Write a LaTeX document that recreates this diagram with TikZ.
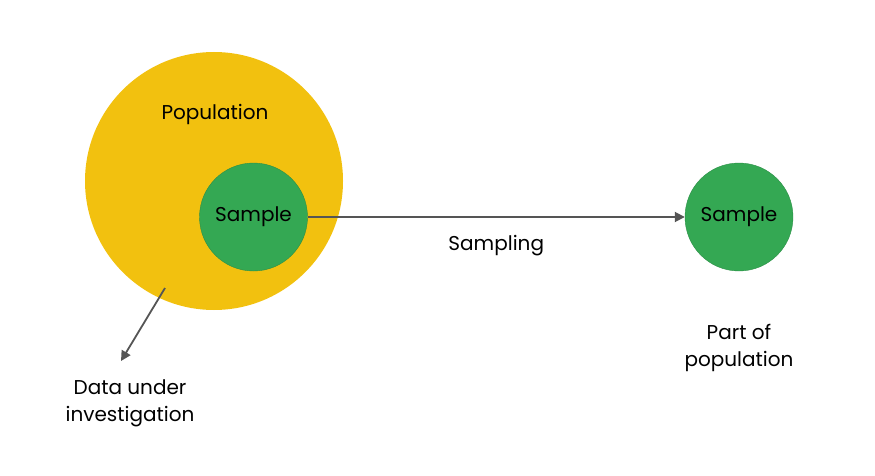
\documentclass[tikz,border=0pt]{standalone}
\usepackage{fontspec}
\setmainfont{Poppins}
\usepackage{xcolor}
\usetikzlibrary{positioning, arrows.meta}
\definecolor{popyellow}{HTML}{F2C10F}
\definecolor{smpgreen}{HTML}{34A853}
\definecolor{arrowgray}{HTML}{555555}

\begin{document}
\begin{tikzpicture}[x=1pt,y=-1pt,font=\fontsize{20}{27}\selectfont,
    pop/.style={circle,fill=popyellow,minimum size=258pt,inner sep=0pt},
    smp/.style={circle,fill=smpgreen,draw=smpgreen!85!black,line width=0.4pt,minimum size=108pt,inner sep=0pt},
    arr/.style={draw=arrowgray,line width=1.8pt,-{Triangle[length=10pt,width=10pt]}}]
       \useasboundingbox (0,0) rectangle (875,476);

       % Grundgesamtheit mit Stichprobe
       \node[pop] (P) at (214,181) {};
       \node (Plabel) at (215,114) {Population};
       \node[smp] (S1) at (253.5,217) {Sample};

       % gezogene Stichprobe
       \node[smp] (S2) at (739,217) {Sample};
       \node[align=center] (S2label) [below=104pt of S2.center] {Part of\\population};

       \draw[arr] (S1) -- node[below=14pt] (Slabel) {Sampling} (S2);

       \coordinate (dstart) at (165,288);
       \coordinate (dend) at (121,361);
       \draw[arr] (dstart) -- (dend);
       \node[align=center] (Dlabel) at (130,403) {Data under\\investigation};
    \end{tikzpicture}
\end{document}
